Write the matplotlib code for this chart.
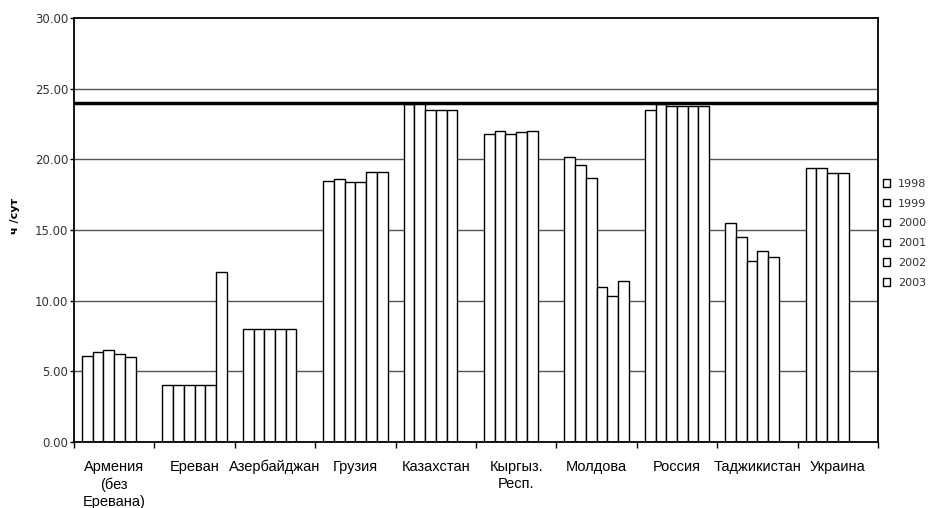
import numpy as np
import matplotlib
matplotlib.use("Agg")
import matplotlib.pyplot as plt
from matplotlib.patches import Patch

categories = ["Армения\n(без\nЕревана)", "Ереван", "Азербайджан", "Грузия", "Казахстан",
              "Кыргыз.\nРесп.", "Молдова", "Россия", "Таджикистан", "Украина"]
years = ["1998", "1999", "2000", "2001", "2002", "2003"]
nan = np.nan
v1998 = [6.1, 4.0, 8.0, 18.5, 23.9, 21.8, 20.2, 23.5, 15.5, 19.4]
v1999 = [6.4, 4.0, 8.0, 18.6, 24.0, 22.0, 19.6, 23.9, 14.5, 19.4]
v2000 = [6.5, 4.0, 8.0, 18.4, 23.5, 21.8, 18.7, 23.8, 12.8, 19.0]
v2001 = [6.2, 4.0, 8.0, 18.4, 23.5, 21.9, 11.0, 23.8, 13.5, 19.0]
v2002 = [6.0, 4.0, 8.0, 19.1, 23.5, 22.0, 10.3, 23.8, 13.1, nan]
v2003 = [nan, 12.0, nan, 19.1, nan, nan, 11.4, 23.8, nan, nan]
series = [v1998, v1999, v2000, v2001, v2002, v2003]
norm_value = 24.0
yticks = [0, 5, 10, 15, 20, 25, 30]

fig = plt.figure(figsize=(9.4, 5.08), dpi=100)
ax = fig.add_axes([74/940, 1-442/508, (878-74)/940, (442-18)/508])

n = len(categories)
nb = len(series)
bw = 0.8 / nb
idx = np.arange(n)
for j, vals in enumerate(series):
    x = idx + 0.1 + (j + 0.5) * bw
    ax.bar(x, vals, width=bw, color="white", edgecolor="black", linewidth=1.0, zorder=2)

for y in yticks[1:-1]:
    ax.axhline(y, color="#555555", linewidth=1.0, zorder=1)
ax.axhline(norm_value, color="black", linewidth=2.5, zorder=3)

ax.set_xlim(0, n)
ax.set_ylim(0, 30)
ax.set_yticks(yticks)
ax.set_yticklabels([f"{t:.2f}" for t in yticks], fontfamily="DejaVu Sans", fontsize=8.5, color="#333333")
ax.set_xticks(np.arange(n + 1))
ax.set_xticklabels([])
ax.set_xticks(idx + 0.5, minor=True)
ax.set_xticklabels(categories, minor=True, fontfamily="Liberation Sans", fontsize=10.5, linespacing=1.3)
ax.tick_params(axis="x", which="minor", length=0, pad=13)
ax.tick_params(axis="x", which="major", length=4, width=1, direction="out")
ax.tick_params(axis="y", length=3, width=1, direction="out", pad=1)
for s in ax.spines.values():
    s.set_linewidth(1.3)
    s.set_color("black")

fig.text(15/940, 1-216/508, "ч /сут", rotation=90, ha="center", va="center",
         fontfamily="DejaVu Sans", fontsize=8, fontweight="bold")

handles = [Patch(facecolor="white", edgecolor="black", linewidth=1.0) for _ in years]
leg = fig.legend(handles, years, loc="upper left", bbox_to_anchor=(874/940, 1-170/508),
                 frameon=False, prop={"family": "DejaVu Sans", "size": 8},
                 handlelength=0.65, handleheight=0.65, handletextpad=0.7, labelspacing=0.88,
                 borderpad=0.3)
for t in leg.get_texts():
    t.set_color("#333333")

fig.savefig("out.png", dpi=100)
